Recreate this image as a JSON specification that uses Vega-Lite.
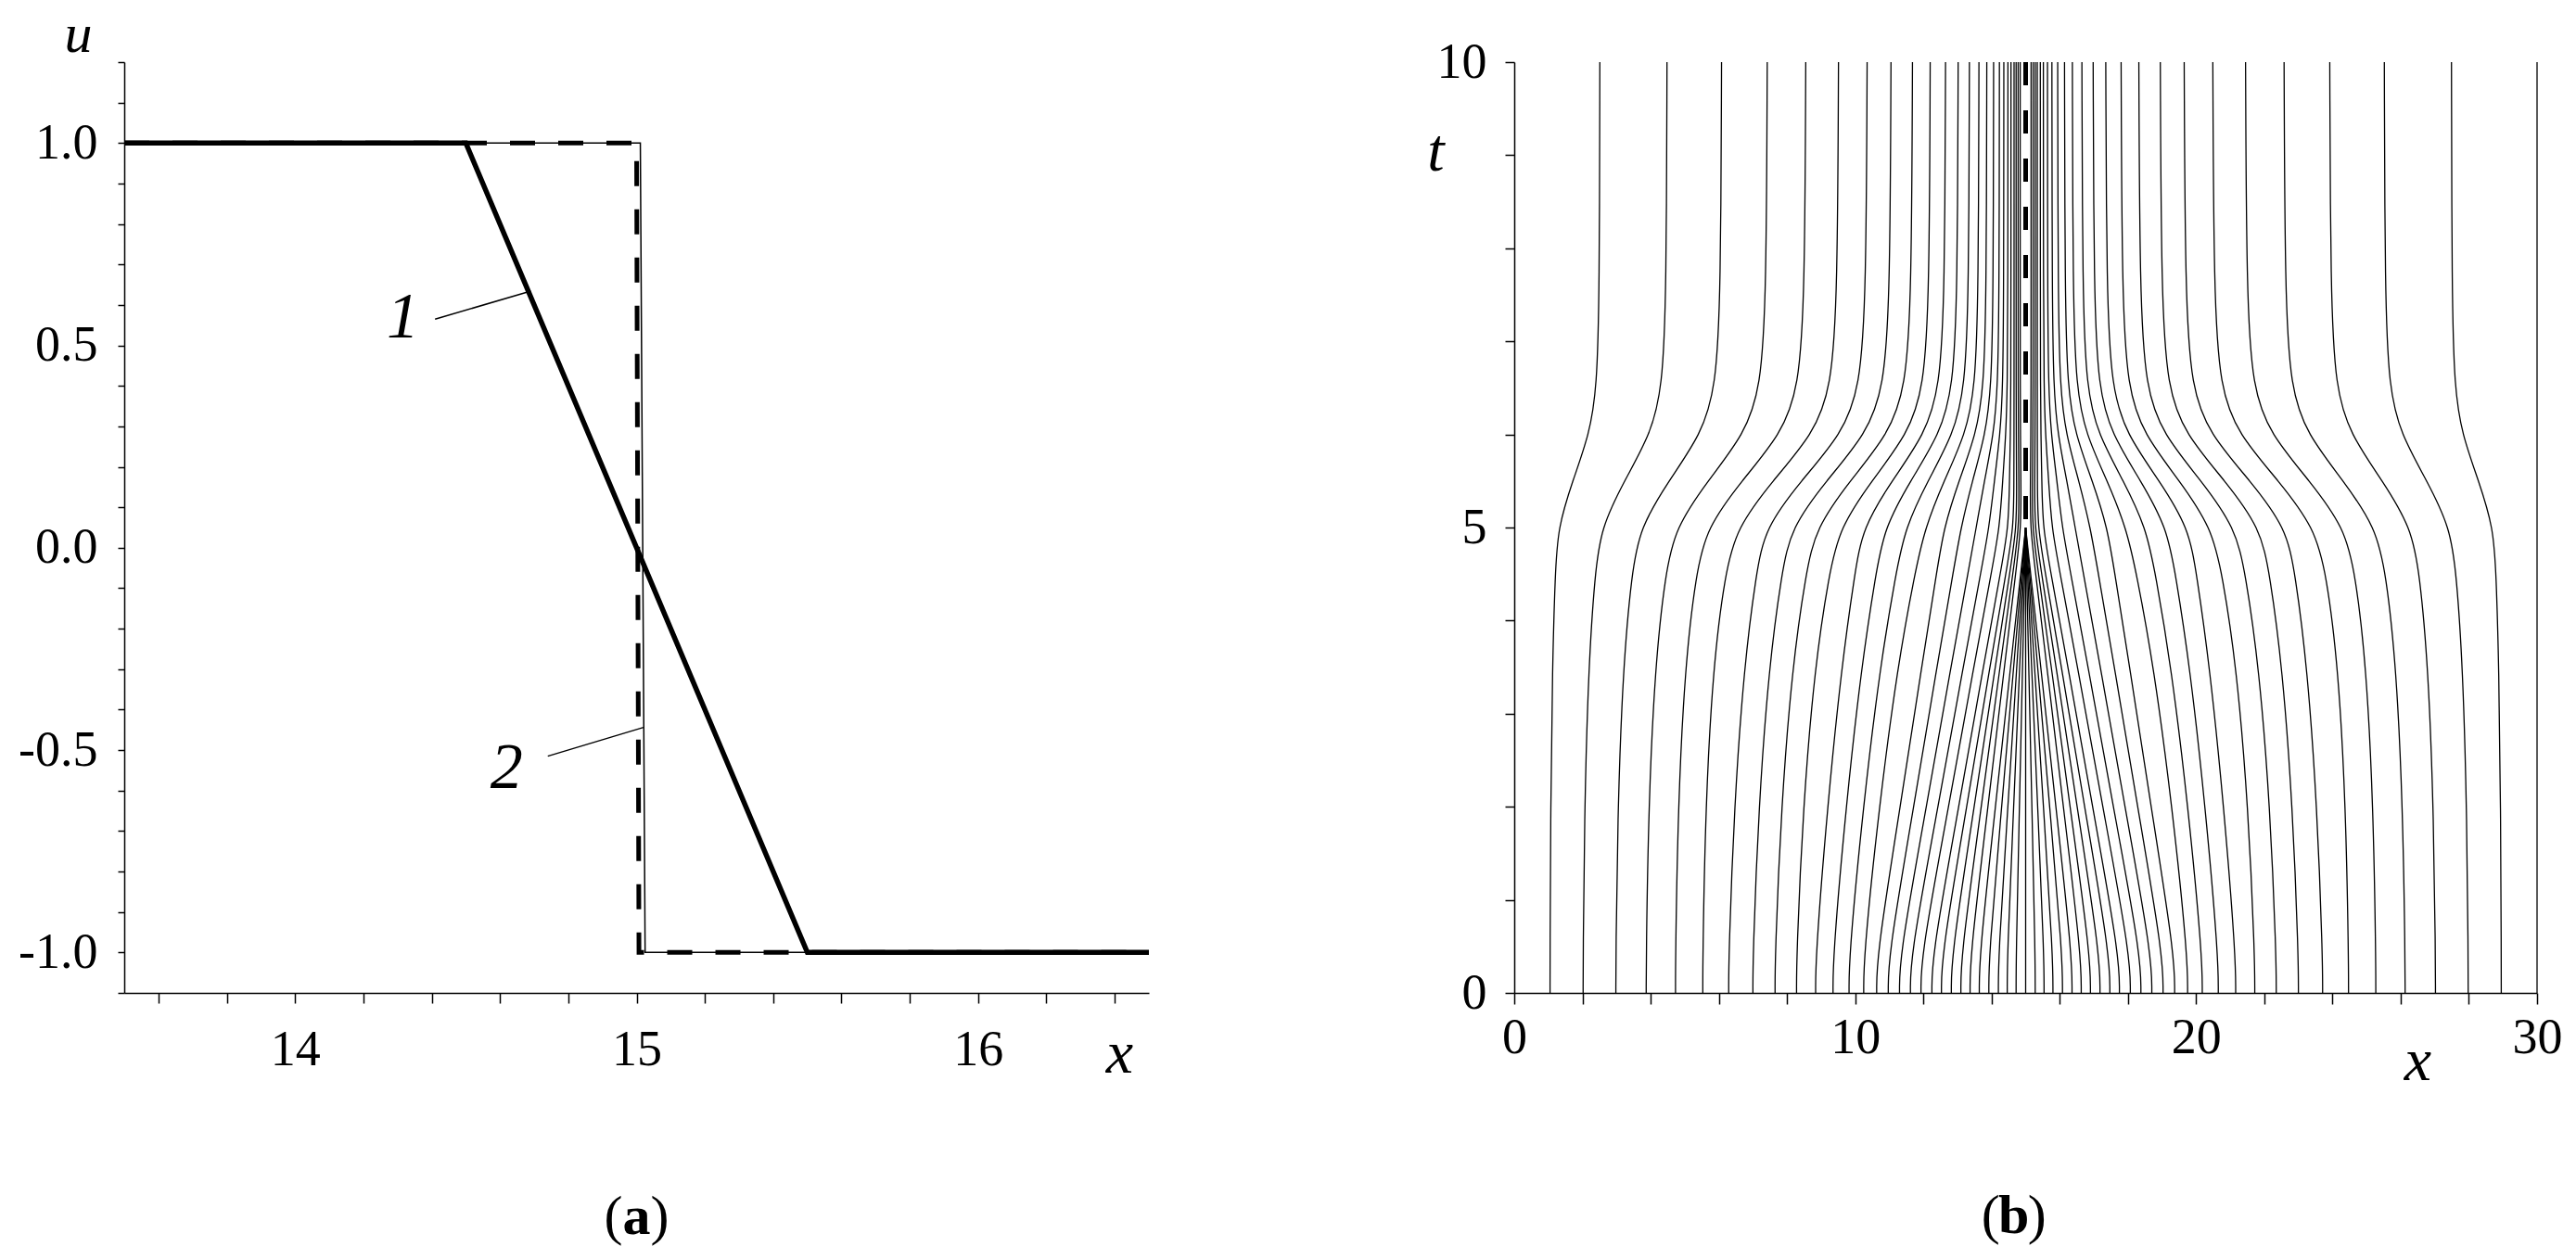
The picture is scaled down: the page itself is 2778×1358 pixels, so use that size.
{
"$schema": "https://vega.github.io/schema/vega-lite/v6.json",
"padding": {"left": 19, "top": 7, "right": 0, "bottom": 0},
"background": "white",
"config": {
 "view": {"stroke": null},
 "font": "Liberation Serif",
 "axis": {"grid": false, "domainColor": "black", "tickColor": "black", "labelColor": "black", "titleColor": "black", "labelFont": "Liberation Serif", "titleFont": "Liberation Serif", "titleFontStyle": "italic", "titleFontWeight": "normal", "labelFontSize": 54, "titleFontSize": 66, "domainWidth": 1.5, "tickWidth": 1.5, "labelFlush": false, "labelOverlap": false, "labelBound": false, "titleAngle": 0, "titleAlign": "center", "titleBaseline": "alphabetic"}
},
"datasets": {
 "u1": [{"k":0,"x":13.5,"u":1},{"k":1,"x":14.5,"u":1},{"k":2,"x":15.5,"u":-1},{"k":3,"x":16.5,"u":-1}],
 "u2": [{"k":0,"x":13.5,"u":1},{"k":1,"x":15.0,"u":1},{"k":2,"x":15.007,"u":-1},{"k":3,"x":16.5,"u":-1}],
 "thin": [{"k":0,"x":13.5,"u":1},{"k":1,"x":15.011,"u":1},{"k":2,"x":15.025,"u":-1},{"k":3,"x":16.5,"u":-1}],
 "lead": [{"g":1,"x":14.41,"u":0.565},{"g":1,"x":14.69,"u":0.634},{"g":2,"x":14.74,"u":-0.515},{"g":2,"x":15.02,"u":-0.444}],
 "lab": [{"x":14.316,"u":0.567,"s":"1"},{"x":14.619,"u":-0.545,"s":"2"}],
 "shock": [{"x":15,"t":5},{"x":15,"t":10}],
 "traj": [
{"i":1,"t":0,"x":1.05},{"i":1,"t":0.4,"x":1.05},{"i":1,"t":2,"x":1.068},{"i":1,"t":3.5,"x":1.119},{"i":1,"t":4.5,"x":1.2},{"i":1,"t":5,"x":1.28},{"i":1,"t":5.5,"x":1.711},{"i":1,"t":6,"x":2.203},{"i":1,"t":6.5,"x":2.424},{"i":1,"t":7.5,"x":2.498},{"i":1,"t":10,"x":2.51},
{"i":2,"t":0,"x":2.02},{"i":2,"t":0.4,"x":2.02},{"i":2,"t":2,"x":2.062},{"i":2,"t":3.5,"x":2.179},{"i":2,"t":4.5,"x":2.365},{"i":2,"t":5,"x":2.55},{"i":2,"t":5.5,"x":3.226},{"i":2,"t":6,"x":3.998},{"i":2,"t":6.5,"x":4.345},{"i":2,"t":7.5,"x":4.461},{"i":2,"t":10,"x":4.48},
{"i":3,"t":0,"x":2.98},{"i":3,"t":0.4,"x":2.98},{"i":3,"t":2,"x":3.037},{"i":3,"t":3.5,"x":3.193},{"i":3,"t":4.5,"x":3.442},{"i":3,"t":5,"x":3.69},{"i":3,"t":5.5,"x":4.527},{"i":3,"t":6,"x":5.483},{"i":3,"t":6.5,"x":5.913},{"i":3,"t":7.5,"x":6.056},{"i":3,"t":10,"x":6.08},
{"i":4,"t":0,"x":3.87},{"i":4,"t":0.4,"x":3.87},{"i":4,"t":2,"x":3.939},{"i":4,"t":3.5,"x":4.128},{"i":4,"t":4.5,"x":4.429},{"i":4,"t":5,"x":4.73},{"i":4,"t":5.5,"x":5.672},{"i":4,"t":6,"x":6.748},{"i":4,"t":6.5,"x":7.232},{"i":4,"t":7.5,"x":7.393},{"i":4,"t":10,"x":7.42},
{"i":5,"t":0,"x":4.73},{"i":5,"t":0.4,"x":4.73},{"i":5,"t":2,"x":4.804},{"i":5,"t":3.5,"x":5.006},{"i":5,"t":4.5,"x":5.328},{"i":5,"t":5,"x":5.65},{"i":5,"t":5.5,"x":6.665},{"i":5,"t":6,"x":7.825},{"i":5,"t":6.5,"x":8.347},{"i":5,"t":7.5,"x":8.521},{"i":5,"t":10,"x":8.55},
{"i":6,"t":0,"x":5.53},{"i":6,"t":0.4,"x":5.53},{"i":6,"t":2,"x":5.61},{"i":6,"t":3.5,"x":5.83},{"i":6,"t":4.5,"x":6.18},{"i":6,"t":5,"x":6.53},{"i":6,"t":5.5,"x":7.573},{"i":6,"t":6,"x":8.765},{"i":6,"t":6.5,"x":9.301},{"i":6,"t":7.5,"x":9.48},{"i":6,"t":10,"x":9.51},
{"i":7,"t":0,"x":6.29},{"i":7,"t":0.4,"x":6.29},{"i":7,"t":2,"x":6.451},{"i":7,"t":3.5,"x":6.739},{"i":7,"t":4.5,"x":7.093},{"i":7,"t":5,"x":7.36},{"i":7,"t":5.5,"x":8.407},{"i":7,"t":6,"x":9.603},{"i":7,"t":6.5,"x":10.141},{"i":7,"t":7.5,"x":10.32},{"i":7,"t":10,"x":10.35},
{"i":8,"t":0,"x":7.0},{"i":8,"t":0.4,"x":7.0},{"i":8,"t":2,"x":7.168},{"i":8,"t":3.5,"x":7.47},{"i":8,"t":4.5,"x":7.84},{"i":8,"t":5,"x":8.12},{"i":8,"t":5.5,"x":9.146},{"i":8,"t":6,"x":10.318},{"i":8,"t":6.5,"x":10.845},{"i":8,"t":7.5,"x":11.021},{"i":8,"t":10,"x":11.05},
{"i":9,"t":0,"x":7.65},{"i":9,"t":0.4,"x":7.65},{"i":9,"t":2,"x":7.83},{"i":9,"t":3.5,"x":8.154},{"i":9,"t":4.5,"x":8.55},{"i":9,"t":5,"x":8.85},{"i":9,"t":5.5,"x":9.841},{"i":9,"t":6,"x":10.973},{"i":9,"t":6.5,"x":11.482},{"i":9,"t":7.5,"x":11.652},{"i":9,"t":10,"x":11.68},
{"i":10,"t":0,"x":8.28},{"i":10,"t":0.4,"x":8.28},{"i":10,"t":2,"x":8.471},{"i":10,"t":3.5,"x":8.813},{"i":10,"t":4.5,"x":9.233},{"i":10,"t":5,"x":9.55},{"i":10,"t":5.5,"x":10.478},{"i":10,"t":6,"x":11.538},{"i":10,"t":6.5,"x":12.015},{"i":10,"t":7.5,"x":12.174},{"i":10,"t":10,"x":12.2},
{"i":11,"t":0,"x":8.84},{"i":11,"t":0.4,"x":8.84},{"i":11,"t":2,"x":9.185},{"i":11,"t":3.5,"x":9.599},{"i":11,"t":4.5,"x":9.985},{"i":11,"t":5,"x":10.22},{"i":11,"t":5.5,"x":11.071},{"i":11,"t":6,"x":12.043},{"i":11,"t":6.5,"x":12.48},{"i":11,"t":7.5,"x":12.626},{"i":11,"t":10,"x":12.65},
{"i":12,"t":0,"x":9.35},{"i":12,"t":0.4,"x":9.35},{"i":12,"t":2,"x":9.728},{"i":12,"t":3.5,"x":10.181},{"i":12,"t":4.5,"x":10.603},{"i":12,"t":5,"x":10.86},{"i":12,"t":5.5,"x":11.616},{"i":12,"t":6,"x":12.48},{"i":12,"t":6.5,"x":12.869},{"i":12,"t":7.5,"x":12.998},{"i":12,"t":10,"x":13.02},
{"i":13,"t":0,"x":9.82},{"i":13,"t":0.4,"x":9.82},{"i":13,"t":2,"x":10.233},{"i":13,"t":3.5,"x":10.728},{"i":13,"t":4.5,"x":11.19},{"i":13,"t":5,"x":11.47},{"i":13,"t":5.5,"x":12.128},{"i":13,"t":6,"x":12.88},{"i":13,"t":6.5,"x":13.218},{"i":13,"t":7.5,"x":13.331},{"i":13,"t":10,"x":13.35},
{"i":14,"t":0,"x":10.25},{"i":14,"t":0.4,"x":10.25},{"i":14,"t":2,"x":10.7},{"i":14,"t":3.5,"x":11.24},{"i":14,"t":4.5,"x":11.744},{"i":14,"t":5,"x":12.05},{"i":14,"t":5.5,"x":12.603},{"i":14,"t":6,"x":13.235},{"i":14,"t":6.5,"x":13.519},{"i":14,"t":7.5,"x":13.614},{"i":14,"t":10,"x":13.63},
{"i":15,"t":0,"x":10.63},{"i":15,"t":0.4,"x":10.63},{"i":15,"t":2,"x":11.32},{"i":15,"t":3.5,"x":11.95},{"i":15,"t":4.5,"x":12.383},{"i":15,"t":5,"x":12.6},{"i":15,"t":5.5,"x":13.041},{"i":15,"t":6,"x":13.545},{"i":15,"t":6.5,"x":13.772},{"i":15,"t":7.5,"x":13.847},{"i":15,"t":10,"x":13.86},
{"i":16,"t":0,"x":10.97},{"i":16,"t":0.4,"x":10.97},{"i":16,"t":2,"x":11.716},{"i":16,"t":3.5,"x":12.397},{"i":16,"t":4.5,"x":12.866},{"i":16,"t":5,"x":13.1},{"i":16,"t":5.5,"x":13.436},{"i":16,"t":6,"x":13.82},{"i":16,"t":6.5,"x":13.993},{"i":16,"t":7.5,"x":14.05},{"i":16,"t":10,"x":14.06},
{"i":17,"t":0,"x":11.3},{"i":17,"t":0.4,"x":11.3},{"i":17,"t":2,"x":12.088},{"i":17,"t":3.5,"x":12.808},{"i":17,"t":4.5,"x":13.303},{"i":17,"t":5,"x":13.55},{"i":17,"t":5.5,"x":13.788},{"i":17,"t":6,"x":14.06},{"i":17,"t":6.5,"x":14.182},{"i":17,"t":7.5,"x":14.223},{"i":17,"t":10,"x":14.23},
{"i":18,"t":0,"x":11.62},{"i":18,"t":0.4,"x":11.62},{"i":18,"t":2,"x":12.429},{"i":18,"t":3.5,"x":13.168},{"i":18,"t":4.5,"x":13.676},{"i":18,"t":5,"x":13.93},{"i":18,"t":5.5,"x":14.081},{"i":18,"t":6,"x":14.253},{"i":18,"t":6.5,"x":14.33},{"i":18,"t":7.5,"x":14.356},{"i":18,"t":10,"x":14.36},
{"i":19,"t":0,"x":11.93},{"i":19,"t":0.4,"x":11.93},{"i":19,"t":2,"x":12.739},{"i":19,"t":3.5,"x":13.478},{"i":19,"t":4.5,"x":13.986},{"i":19,"t":5,"x":14.24},{"i":19,"t":5.5,"x":14.324},{"i":19,"t":6,"x":14.42},{"i":19,"t":6.5,"x":14.463},{"i":19,"t":7.5,"x":14.478},{"i":19,"t":10,"x":14.48},
{"i":20,"t":0,"x":12.25},{"i":20,"t":0.4,"x":12.25},{"i":20,"t":2,"x":13.038},{"i":20,"t":3.5,"x":13.758},{"i":20,"t":4.5,"x":14.253},{"i":20,"t":5,"x":14.5},{"i":20,"t":5.5,"x":14.525},{"i":20,"t":6,"x":14.553},{"i":20,"t":6.5,"x":14.565},{"i":20,"t":7.5,"x":14.569},{"i":20,"t":10,"x":14.57},
{"i":21,"t":0,"x":12.53},{"i":21,"t":0.4,"x":12.53},{"i":21,"t":2,"x":13.272},{"i":21,"t":3.5,"x":13.95},{"i":21,"t":4.5,"x":14.417},{"i":21,"t":5,"x":14.65},{"i":21,"t":5.5,"x":14.654},{"i":21,"t":6,"x":14.658},{"i":21,"t":6.5,"x":14.659},{"i":21,"t":7.5,"x":14.66},{"i":21,"t":10,"x":14.66},
{"i":22,"t":0,"x":12.82},{"i":22,"t":0.4,"x":12.82},{"i":22,"t":2,"x":13.492},{"i":22,"t":3.5,"x":14.106},{"i":22,"t":4.5,"x":14.529},{"i":22,"t":5,"x":14.74},{"i":22,"t":5.5,"x":14.733},{"i":22,"t":6,"x":14.725},{"i":22,"t":6.5,"x":14.721},{"i":22,"t":7.5,"x":14.72},{"i":22,"t":10,"x":14.72},
{"i":23,"t":0,"x":13.1},{"i":23,"t":0.4,"x":13.1},{"i":23,"t":2,"x":13.699},{"i":23,"t":3.5,"x":14.246},{"i":23,"t":4.5,"x":14.622},{"i":23,"t":5,"x":14.81},{"i":23,"t":5.5,"x":14.8},{"i":23,"t":6,"x":14.788},{"i":23,"t":6.5,"x":14.782},{"i":23,"t":7.5,"x":14.78},{"i":23,"t":10,"x":14.78},
{"i":24,"t":0,"x":13.37},{"i":24,"t":0.4,"x":13.37},{"i":24,"t":2,"x":13.895},{"i":24,"t":3.5,"x":14.375},{"i":24,"t":4.5,"x":14.705},{"i":24,"t":5,"x":14.87},{"i":24,"t":5.5,"x":14.86},{"i":24,"t":6,"x":14.848},{"i":24,"t":6.5,"x":14.842},{"i":24,"t":7.5,"x":14.84},{"i":24,"t":10,"x":14.84},
{"i":25,"t":0,"x":13.64},{"i":25,"t":0.4,"x":13.64},{"i":25,"t":2,"x":14.113},{"i":25,"t":3.5,"x":14.557},{"i":25,"t":4.5,"x":14.852},{"i":25,"t":5,"x":15},
{"i":26,"t":0,"x":13.92},{"i":26,"t":0.4,"x":13.92},{"i":26,"t":2,"x":14.296},{"i":26,"t":3.5,"x":14.648},{"i":26,"t":4.5,"x":14.882},{"i":26,"t":5,"x":15},
{"i":27,"t":0,"x":14.2},{"i":27,"t":0.4,"x":14.2},{"i":27,"t":2,"x":14.478},{"i":27,"t":3.5,"x":14.739},{"i":27,"t":4.5,"x":14.913},{"i":27,"t":5,"x":15},
{"i":28,"t":0,"x":14.46},{"i":28,"t":0.4,"x":14.46},{"i":28,"t":2,"x":14.648},{"i":28,"t":3.5,"x":14.824},{"i":28,"t":4.5,"x":14.941},{"i":28,"t":5,"x":15},
{"i":29,"t":0,"x":14.72},{"i":29,"t":0.4,"x":14.72},{"i":29,"t":2,"x":14.817},{"i":29,"t":3.5,"x":14.909},{"i":29,"t":4.5,"x":14.969},{"i":29,"t":5,"x":15},
{"i":30,"t":0,"x":15},{"i":30,"t":5,"x":15},
{"i":31,"t":0,"x":15.28},{"i":31,"t":0.4,"x":15.28},{"i":31,"t":2,"x":15.183},{"i":31,"t":3.5,"x":15.091},{"i":31,"t":4.5,"x":15.031},{"i":31,"t":5,"x":15},
{"i":32,"t":0,"x":15.54},{"i":32,"t":0.4,"x":15.54},{"i":32,"t":2,"x":15.352},{"i":32,"t":3.5,"x":15.176},{"i":32,"t":4.5,"x":15.059},{"i":32,"t":5,"x":15},
{"i":33,"t":0,"x":15.8},{"i":33,"t":0.4,"x":15.8},{"i":33,"t":2,"x":15.522},{"i":33,"t":3.5,"x":15.261},{"i":33,"t":4.5,"x":15.087},{"i":33,"t":5,"x":15},
{"i":34,"t":0,"x":16.08},{"i":34,"t":0.4,"x":16.08},{"i":34,"t":2,"x":15.704},{"i":34,"t":3.5,"x":15.352},{"i":34,"t":4.5,"x":15.118},{"i":34,"t":5,"x":15},
{"i":35,"t":0,"x":16.36},{"i":35,"t":0.4,"x":16.36},{"i":35,"t":2,"x":15.887},{"i":35,"t":3.5,"x":15.443},{"i":35,"t":4.5,"x":15.148},{"i":35,"t":5,"x":15},
{"i":36,"t":0,"x":16.63},{"i":36,"t":0.4,"x":16.63},{"i":36,"t":2,"x":16.105},{"i":36,"t":3.5,"x":15.625},{"i":36,"t":4.5,"x":15.295},{"i":36,"t":5,"x":15.13},{"i":36,"t":5.5,"x":15.14},{"i":36,"t":6,"x":15.152},{"i":36,"t":6.5,"x":15.158},{"i":36,"t":7.5,"x":15.16},{"i":36,"t":10,"x":15.16},
{"i":37,"t":0,"x":16.9},{"i":37,"t":0.4,"x":16.9},{"i":37,"t":2,"x":16.301},{"i":37,"t":3.5,"x":15.754},{"i":37,"t":4.5,"x":15.378},{"i":37,"t":5,"x":15.19},{"i":37,"t":5.5,"x":15.2},{"i":37,"t":6,"x":15.212},{"i":37,"t":6.5,"x":15.218},{"i":37,"t":7.5,"x":15.22},{"i":37,"t":10,"x":15.22},
{"i":38,"t":0,"x":17.18},{"i":38,"t":0.4,"x":17.18},{"i":38,"t":2,"x":16.508},{"i":38,"t":3.5,"x":15.894},{"i":38,"t":4.5,"x":15.471},{"i":38,"t":5,"x":15.26},{"i":38,"t":5.5,"x":15.267},{"i":38,"t":6,"x":15.275},{"i":38,"t":6.5,"x":15.279},{"i":38,"t":7.5,"x":15.28},{"i":38,"t":10,"x":15.28},
{"i":39,"t":0,"x":17.47},{"i":39,"t":0.4,"x":17.47},{"i":39,"t":2,"x":16.728},{"i":39,"t":3.5,"x":16.05},{"i":39,"t":4.5,"x":15.583},{"i":39,"t":5,"x":15.35},{"i":39,"t":5.5,"x":15.346},{"i":39,"t":6,"x":15.342},{"i":39,"t":6.5,"x":15.341},{"i":39,"t":7.5,"x":15.34},{"i":39,"t":10,"x":15.34},
{"i":40,"t":0,"x":17.75},{"i":40,"t":0.4,"x":17.75},{"i":40,"t":2,"x":16.962},{"i":40,"t":3.5,"x":16.242},{"i":40,"t":4.5,"x":15.747},{"i":40,"t":5,"x":15.5},{"i":40,"t":5.5,"x":15.475},{"i":40,"t":6,"x":15.447},{"i":40,"t":6.5,"x":15.435},{"i":40,"t":7.5,"x":15.431},{"i":40,"t":10,"x":15.43},
{"i":41,"t":0,"x":18.07},{"i":41,"t":0.4,"x":18.07},{"i":41,"t":2,"x":17.261},{"i":41,"t":3.5,"x":16.522},{"i":41,"t":4.5,"x":16.014},{"i":41,"t":5,"x":15.76},{"i":41,"t":5.5,"x":15.676},{"i":41,"t":6,"x":15.58},{"i":41,"t":6.5,"x":15.537},{"i":41,"t":7.5,"x":15.522},{"i":41,"t":10,"x":15.52},
{"i":42,"t":0,"x":18.38},{"i":42,"t":0.4,"x":18.38},{"i":42,"t":2,"x":17.571},{"i":42,"t":3.5,"x":16.832},{"i":42,"t":4.5,"x":16.324},{"i":42,"t":5,"x":16.07},{"i":42,"t":5.5,"x":15.919},{"i":42,"t":6,"x":15.747},{"i":42,"t":6.5,"x":15.67},{"i":42,"t":7.5,"x":15.644},{"i":42,"t":10,"x":15.64},
{"i":43,"t":0,"x":18.7},{"i":43,"t":0.4,"x":18.7},{"i":43,"t":2,"x":17.912},{"i":43,"t":3.5,"x":17.192},{"i":43,"t":4.5,"x":16.697},{"i":43,"t":5,"x":16.45},{"i":43,"t":5.5,"x":16.212},{"i":43,"t":6,"x":15.94},{"i":43,"t":6.5,"x":15.818},{"i":43,"t":7.5,"x":15.777},{"i":43,"t":10,"x":15.77},
{"i":44,"t":0,"x":19.03},{"i":44,"t":0.4,"x":19.03},{"i":44,"t":2,"x":18.284},{"i":44,"t":3.5,"x":17.603},{"i":44,"t":4.5,"x":17.134},{"i":44,"t":5,"x":16.9},{"i":44,"t":5.5,"x":16.564},{"i":44,"t":6,"x":16.18},{"i":44,"t":6.5,"x":16.007},{"i":44,"t":7.5,"x":15.95},{"i":44,"t":10,"x":15.94},
{"i":45,"t":0,"x":19.37},{"i":45,"t":0.4,"x":19.37},{"i":45,"t":2,"x":18.68},{"i":45,"t":3.5,"x":18.05},{"i":45,"t":4.5,"x":17.617},{"i":45,"t":5,"x":17.4},{"i":45,"t":5.5,"x":16.959},{"i":45,"t":6,"x":16.455},{"i":45,"t":6.5,"x":16.228},{"i":45,"t":7.5,"x":16.153},{"i":45,"t":10,"x":16.14},
{"i":46,"t":0,"x":19.75},{"i":46,"t":0.4,"x":19.75},{"i":46,"t":2,"x":19.3},{"i":46,"t":3.5,"x":18.76},{"i":46,"t":4.5,"x":18.256},{"i":46,"t":5,"x":17.95},{"i":46,"t":5.5,"x":17.397},{"i":46,"t":6,"x":16.765},{"i":46,"t":6.5,"x":16.481},{"i":46,"t":7.5,"x":16.386},{"i":46,"t":10,"x":16.37},
{"i":47,"t":0,"x":20.18},{"i":47,"t":0.4,"x":20.18},{"i":47,"t":2,"x":19.767},{"i":47,"t":3.5,"x":19.272},{"i":47,"t":4.5,"x":18.81},{"i":47,"t":5,"x":18.53},{"i":47,"t":5.5,"x":17.872},{"i":47,"t":6,"x":17.12},{"i":47,"t":6.5,"x":16.782},{"i":47,"t":7.5,"x":16.669},{"i":47,"t":10,"x":16.65},
{"i":48,"t":0,"x":20.65},{"i":48,"t":0.4,"x":20.65},{"i":48,"t":2,"x":20.272},{"i":48,"t":3.5,"x":19.819},{"i":48,"t":4.5,"x":19.397},{"i":48,"t":5,"x":19.14},{"i":48,"t":5.5,"x":18.384},{"i":48,"t":6,"x":17.52},{"i":48,"t":6.5,"x":17.131},{"i":48,"t":7.5,"x":17.002},{"i":48,"t":10,"x":16.98},
{"i":49,"t":0,"x":21.16},{"i":49,"t":0.4,"x":21.16},{"i":49,"t":2,"x":20.815},{"i":49,"t":3.5,"x":20.401},{"i":49,"t":4.5,"x":20.015},{"i":49,"t":5,"x":19.78},{"i":49,"t":5.5,"x":18.929},{"i":49,"t":6,"x":17.957},{"i":49,"t":6.5,"x":17.52},{"i":49,"t":7.5,"x":17.374},{"i":49,"t":10,"x":17.35},
{"i":50,"t":0,"x":21.72},{"i":50,"t":0.4,"x":21.72},{"i":50,"t":2,"x":21.529},{"i":50,"t":3.5,"x":21.187},{"i":50,"t":4.5,"x":20.767},{"i":50,"t":5,"x":20.45},{"i":50,"t":5.5,"x":19.522},{"i":50,"t":6,"x":18.462},{"i":50,"t":6.5,"x":17.985},{"i":50,"t":7.5,"x":17.826},{"i":50,"t":10,"x":17.8},
{"i":51,"t":0,"x":22.35},{"i":51,"t":0.4,"x":22.35},{"i":51,"t":2,"x":22.17},{"i":51,"t":3.5,"x":21.846},{"i":51,"t":4.5,"x":21.45},{"i":51,"t":5,"x":21.15},{"i":51,"t":5.5,"x":20.159},{"i":51,"t":6,"x":19.027},{"i":51,"t":6.5,"x":18.518},{"i":51,"t":7.5,"x":18.348},{"i":51,"t":10,"x":18.32},
{"i":52,"t":0,"x":23.0},{"i":52,"t":0.4,"x":23.0},{"i":52,"t":2,"x":22.832},{"i":52,"t":3.5,"x":22.53},{"i":52,"t":4.5,"x":22.16},{"i":52,"t":5,"x":21.88},{"i":52,"t":5.5,"x":20.854},{"i":52,"t":6,"x":19.682},{"i":52,"t":6.5,"x":19.155},{"i":52,"t":7.5,"x":18.979},{"i":52,"t":10,"x":18.95},
{"i":53,"t":0,"x":23.71},{"i":53,"t":0.4,"x":23.71},{"i":53,"t":2,"x":23.549},{"i":53,"t":3.5,"x":23.261},{"i":53,"t":4.5,"x":22.907},{"i":53,"t":5,"x":22.64},{"i":53,"t":5.5,"x":21.593},{"i":53,"t":6,"x":20.397},{"i":53,"t":6.5,"x":19.859},{"i":53,"t":7.5,"x":19.68},{"i":53,"t":10,"x":19.65},
{"i":54,"t":0,"x":24.47},{"i":54,"t":0.4,"x":24.47},{"i":54,"t":2,"x":24.39},{"i":54,"t":3.5,"x":24.17},{"i":54,"t":4.5,"x":23.82},{"i":54,"t":5,"x":23.47},{"i":54,"t":5.5,"x":22.427},{"i":54,"t":6,"x":21.235},{"i":54,"t":6.5,"x":20.699},{"i":54,"t":7.5,"x":20.52},{"i":54,"t":10,"x":20.49},
{"i":55,"t":0,"x":25.27},{"i":55,"t":0.4,"x":25.27},{"i":55,"t":2,"x":25.196},{"i":55,"t":3.5,"x":24.994},{"i":55,"t":4.5,"x":24.672},{"i":55,"t":5,"x":24.35},{"i":55,"t":5.5,"x":23.335},{"i":55,"t":6,"x":22.175},{"i":55,"t":6.5,"x":21.653},{"i":55,"t":7.5,"x":21.479},{"i":55,"t":10,"x":21.45},
{"i":56,"t":0,"x":26.13},{"i":56,"t":0.4,"x":26.13},{"i":56,"t":2,"x":26.061},{"i":56,"t":3.5,"x":25.872},{"i":56,"t":4.5,"x":25.571},{"i":56,"t":5,"x":25.27},{"i":56,"t":5.5,"x":24.328},{"i":56,"t":6,"x":23.252},{"i":56,"t":6.5,"x":22.768},{"i":56,"t":7.5,"x":22.607},{"i":56,"t":10,"x":22.58},
{"i":57,"t":0,"x":27.02},{"i":57,"t":0.4,"x":27.02},{"i":57,"t":2,"x":26.963},{"i":57,"t":3.5,"x":26.807},{"i":57,"t":4.5,"x":26.558},{"i":57,"t":5,"x":26.31},{"i":57,"t":5.5,"x":25.473},{"i":57,"t":6,"x":24.517},{"i":57,"t":6.5,"x":24.087},{"i":57,"t":7.5,"x":23.944},{"i":57,"t":10,"x":23.92},
{"i":58,"t":0,"x":27.98},{"i":58,"t":0.4,"x":27.98},{"i":58,"t":2,"x":27.938},{"i":58,"t":3.5,"x":27.821},{"i":58,"t":4.5,"x":27.635},{"i":58,"t":5,"x":27.45},{"i":58,"t":5.5,"x":26.774},{"i":58,"t":6,"x":26.002},{"i":58,"t":6.5,"x":25.655},{"i":58,"t":7.5,"x":25.539},{"i":58,"t":10,"x":25.52},
{"i":59,"t":0,"x":28.95},{"i":59,"t":0.4,"x":28.95},{"i":59,"t":2,"x":28.932},{"i":59,"t":3.5,"x":28.881},{"i":59,"t":4.5,"x":28.8},{"i":59,"t":5,"x":28.72},{"i":59,"t":5.5,"x":28.289},{"i":59,"t":6,"x":27.797},{"i":59,"t":6.5,"x":27.576},{"i":59,"t":7.5,"x":27.502},{"i":59,"t":10,"x":27.49},
{"i":60,"t":0,"x":30},{"i":60,"t":10,"x":30}
 ]
},
"hconcat": [
 {
  "width": 1105, "height": 1004,
  "layer": [
   {"data": {"name": "thin"}, "mark": {"type": "line", "color": "black", "strokeWidth": 1.5},
    "encoding": {
     "x": {"field": "x", "type": "quantitative", "scale": {"domain": [13.5, 16.5], "nice": false, "zero": false},
      "axis": {"title": "x", "values": [13.6,13.8,14,14.2,14.4,14.6,14.8,15,15.2,15.4,15.6,15.8,16,16.2,16.4], "labelExpr": "abs(datum.value-round(datum.value))<0.001 ? format(datum.value,'d') : ''", "tickSize": 11, "labelPadding": 23, "titleX": 1073, "titleY": 85}},
     "y": {"field": "u", "type": "quantitative", "scale": {"domain": [-1.1, 1.2], "nice": false, "zero": false},
      "axis": {"title": "u", "titleFontSize": 60, "values": [-1.1,-1,-0.9,-0.8,-0.7,-0.6,-0.5,-0.4,-0.3,-0.2,-0.1,0,0.1,0.2,0.3,0.4,0.5,0.6,0.7,0.8,0.9,1,1.1,1.2], "labelExpr": "abs(datum.value*2-round(datum.value*2))<0.001 ? replace(format(datum.value,'.1f'),'\u2212','-') : ''", "tickSize": 7, "labelPadding": 22, "titleX": -50, "titleY": -12}},
     "order": {"field": "k", "type": "quantitative"}
    }},
   {"data": {"name": "u2"}, "mark": {"type": "line", "color": "black", "strokeWidth": 5, "strokeDash": [27, 25]},
    "encoding": {"x": {"field": "x", "type": "quantitative"}, "y": {"field": "u", "type": "quantitative"}, "order": {"field": "k", "type": "quantitative"}}},
   {"data": {"name": "u1"}, "mark": {"type": "line", "color": "black", "strokeWidth": 5.5},
    "encoding": {"x": {"field": "x", "type": "quantitative"}, "y": {"field": "u", "type": "quantitative"}, "order": {"field": "k", "type": "quantitative"}}},
   {"data": {"name": "lead"}, "mark": {"type": "line", "color": "black", "strokeWidth": 1.5},
    "encoding": {"x": {"field": "x", "type": "quantitative"}, "y": {"field": "u", "type": "quantitative"}, "detail": {"field": "g"}}},
   {"data": {"name": "lab"}, "mark": {"type": "text", "font": "Liberation Serif", "fontStyle": "italic", "fontSize": 70, "align": "center", "baseline": "middle", "color": "black"},
    "encoding": {"x": {"field": "x", "type": "quantitative"}, "y": {"field": "u", "type": "quantitative"}, "text": {"field": "s"}}},
   {"data": {"values": [{}]}, "mark": {"type": "text", "text": "(", "font": "Liberation Serif", "fontSize": 60, "align": "right", "dx": -15, "baseline": "alphabetic", "color": "black"},
    "encoding": {"x": {"datum": 15}, "y": {"datum": -1.696}}},
   {"data": {"values": [{}]}, "mark": {"type": "text", "text": "a", "font": "Liberation Serif", "fontWeight": "bold", "fontSize": 60, "align": "center", "baseline": "alphabetic", "color": "black"},
    "encoding": {"x": {"datum": 15}, "y": {"datum": -1.696}}},
   {"data": {"values": [{}]}, "mark": {"type": "text", "text": ")", "font": "Liberation Serif", "fontSize": 60, "align": "left", "dx": 15, "baseline": "alphabetic", "color": "black"},
    "encoding": {"x": {"datum": 15}, "y": {"datum": -1.696}}}
  ]
 },
 {
  "width": 1103, "height": 1004,
  "layer": [
   {"data": {"name": "traj"}, "mark": {"type": "line", "color": "black", "strokeWidth": 1.3, "interpolate": "basis"},
    "encoding": {
     "x": {"field": "x", "type": "quantitative", "scale": {"domain": [0, 30], "nice": false, "zero": false},
      "axis": {"title": "x", "values": [0,2,4,6,8,10,12,14,16,18,20,22,24,26,28,30], "labelExpr": "datum.value % 10 == 0 ? format(datum.value,'d') : ''", "tickSize": 12, "labelPadding": 9, "titleX": 974, "titleY": 93}},
     "y": {"field": "t", "type": "quantitative", "scale": {"domain": [0, 10], "nice": false, "zero": false},
      "axis": {"title": "t", "values": [0,1,2,3,4,5,6,7,8,9,10], "labelExpr": "datum.value % 5 == 0 ? format(datum.value,'d') : ''", "tickSize": 10, "labelPadding": 20, "titleX": -85, "titleY": 116}},
     "detail": {"field": "i"},
     "order": {"field": "t", "type": "quantitative"}
    }},
   {"data": {"name": "shock"}, "mark": {"type": "line", "color": "black", "strokeWidth": 5, "strokeDash": [25, 27]},
    "encoding": {"x": {"field": "x", "type": "quantitative"}, "y": {"field": "t", "type": "quantitative"}, "order": {"field": "t", "type": "quantitative", "sort": "descending"}}},
   {"data": {"values": [{}]}, "mark": {"type": "text", "text": "(", "font": "Liberation Serif", "fontSize": 60, "align": "right", "dx": -15, "baseline": "alphabetic", "color": "black"},
    "encoding": {"x": {"datum": 14.65}, "y": {"datum": -2.577}}},
   {"data": {"values": [{}]}, "mark": {"type": "text", "text": "b", "font": "Liberation Serif", "fontWeight": "bold", "fontSize": 60, "align": "center", "baseline": "alphabetic", "color": "black"},
    "encoding": {"x": {"datum": 14.65}, "y": {"datum": -2.577}}},
   {"data": {"values": [{}]}, "mark": {"type": "text", "text": ")", "font": "Liberation Serif", "fontSize": 60, "align": "left", "dx": 15, "baseline": "alphabetic", "color": "black"},
    "encoding": {"x": {"datum": 14.65}, "y": {"datum": -2.577}}}
  ]
 }
],
"spacing": 394,
"bounds": "flush"
}
